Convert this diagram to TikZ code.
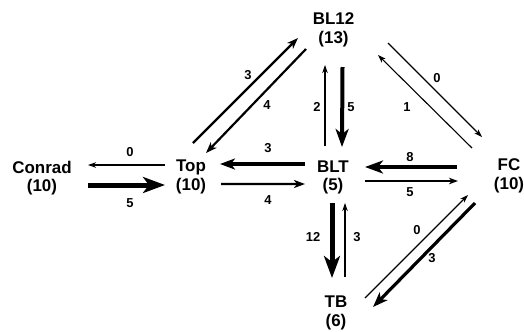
\documentclass[tikz,border=0pt]{standalone}
\usepackage{fontspec}
\setmainfont{Liberation Sans}
\usetikzlibrary{arrows.meta}

\tikzset{
  vertex/.style={inner sep=0pt, align=center,
    font=\fontsize{17}{18.5}\selectfont\bfseries},
  flow/.style={font=\fontsize{13}{15}\selectfont\bfseries, inner sep=0pt},
  wa/.style={line width=1.1bp, -{Stealth[length=8bp,width=5.5bp,inset=2.5bp]}},
  wb/.style={line width=1.6bp, -{Stealth[length=9bp,width=6.5bp,inset=2.5bp]}},
  wc/.style={line width=2.2bp, -{Stealth[length=11bp,width=8bp,inset=3bp]}},
  wd/.style={line width=3.2bp, -{Stealth[length=15bp,width=11bp,inset=4bp]}},
  we/.style={line width=4bp, -{Stealth[length=18bp,width=13bp,inset=5bp]}},
  wf/.style={line width=5bp, -{Stealth[length=22bp,width=16bp,inset=6bp]}},
}

\begin{document}
\begin{tikzpicture}[x=1bp, y=-1bp]
  \fill[white] (0,0) rectangle (524,331);
  \useasboundingbox (0,0) rectangle (524,331);

  % compartments
  \node[vertex] (conrad) at (42,178) {Conrad\\(10)};
  \node[vertex] (top)    at (191,177) {Top\\(10)};
  \node[vertex] (blt)    at (333,177.5) {BLT\\(5)};
  \node[vertex] (fc)     at (509,176) {FC\\(10)};
  \node[vertex] (bl12)   at (333.5,30) {BL12\\(13)};
  \node[vertex] (tb)     at (336,313) {TB\\(6)};

  % Conrad <-> Top
  \draw[wa] ([shift={(-26,-12)}]top.center) -- ([shift={(46,-13)}]conrad.center);
  \draw[wf] ([shift={(46,7)}]conrad.center) -- ([shift={(-26,8)}]top.center);
  \node[flow] (l01) at (130,152) {0};
  \node[flow] (l02) at (130,203) {5};

  % Top <-> BLT
  \draw[wd] ([shift={(-28,-13.5)}]blt.center) -- ([shift={(29,-13)}]top.center);
  \draw[wc] ([shift={(30,7)}]top.center) -- ([shift={(-28,6.5)}]blt.center);
  \node[flow] (l03) at (268,148) {3};
  \node[flow] (l04) at (268,200) {4};

  % BLT <-> FC
  \draw[we] ([shift={(-52,-9)}]fc.center) -- ([shift={(32,-10.5)}]blt.center);
  \draw[wb] ([shift={(32,3.5)}]blt.center) -- ([shift={(-51,5)}]fc.center);
  \node[flow] (l05) at (410,157) {8};
  \node[flow] (l06) at (410,192) {5};

  % BLT <-> BL12
  \draw[wa] ([shift={(-8,-31.5)}]blt.center) -- ([shift={(-8.5,35)}]bl12.center);
  \draw[we] ([shift={(9,37)}]bl12.center) -- ([shift={(9,-30.5)}]blt.center);
  \node[flow] (l07) at (317,107) {2};
  \node[flow] (l08) at (351,107) {5};

  % BLT <-> TB
  \draw[wf] ([shift={(-1,25.5)}]blt.center) -- ([shift={(-4,-35)}]tb.center);
  \draw[wa] ([shift={(9,-36)}]tb.center) -- ([shift={(12,25.5)}]blt.center);
  \node[flow] (l09) at (313,237) {12};
  \node[flow] (l10) at (357,237) {3};

  % Top <-> BL12
  \draw[wc] ([shift={(2,-34)}]top.center) -- ([shift={(-35.5,8)}]bl12.center);
  \draw[wc] ([shift={(-27.5,19)}]bl12.center) -- ([shift={(15,-24)}]top.center);
  \node[flow] (l11) at (248,75) {3};
  \node[flow] (l12) at (267,105) {4};

  % BL12 <-> FC
  \draw[wa] ([shift={(54.5,13)}]bl12.center) -- ([shift={(-27,-39)}]fc.center);
  \draw[wa] ([shift={(-37,-28)}]fc.center) -- ([shift={(44.5,25)}]bl12.center);
  \node[flow] (l13) at (437,78) {0};
  \node[flow] (l14) at (407,107) {1};

  % TB <-> FC
  \draw[wa] ([shift={(29,-15)}]tb.center) -- ([shift={(-41,19)}]fc.center);
  \draw[wd] ([shift={(-34,27)}]fc.center) -- ([shift={(37,-6)}]tb.center);
  \node[flow] (l15) at (417,230) {0};
  \node[flow] (l16) at (432,258) {3};
\end{tikzpicture}
\end{document}
